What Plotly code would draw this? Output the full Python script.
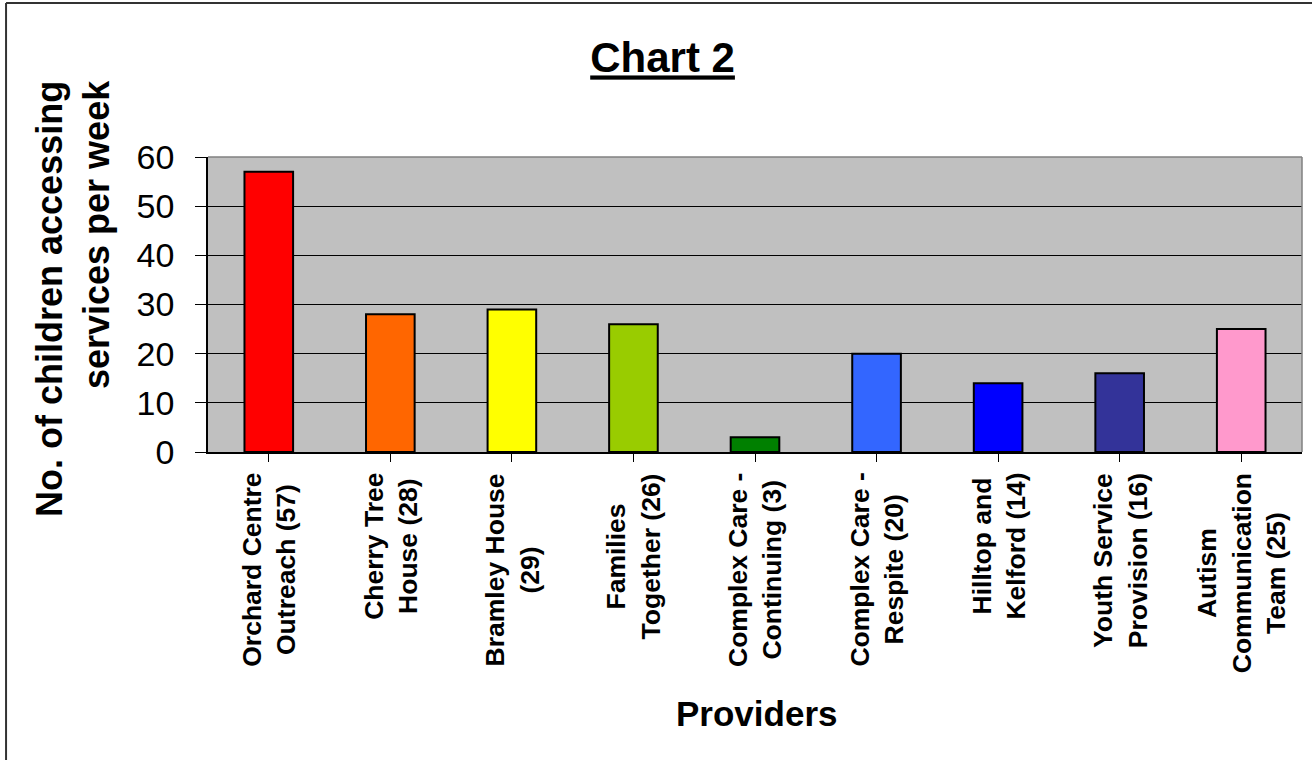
import plotly.graph_objects as go

providers = [
    "Orchard Centre<br>Outreach (57)",
    "Cherry Tree<br>House (28)",
    "Bramley House<br>(29)",
    "Families<br>Together (26)",
    "Complex Care -<br>Continuing (3)",
    "Complex Care -<br>Respite (20)",
    "Hilltop and<br>Kelford (14)",
    "Youth Service<br>Provision (16)",
    "Autism<br>Communication<br>Team (25)",
]
children = [57, 28, 29, 26, 3, 20, 14, 16, 25]
bar_colors = ["#FF0000", "#FF6600", "#FFFF00", "#99CC00", "#008000",
              "#3366FF", "#0000FF", "#333399", "#FF99CC"]
y_ticks = [0, 10, 20, 30, 40, 50, 60]

FONT = "Liberation Sans, Arial, sans-serif"

fig = go.Figure()
fig.add_trace(go.Bar(
    x=list(range(len(providers))),
    y=children,
    marker=dict(color=bar_colors, line=dict(color="#000000", width=2)),
    width=0.4,
    hoverinfo="skip",
))

annotations = []
for i, lab in enumerate(providers):
    annotations.append(dict(
        x=i, xref="x", y=0, yref="paper", yanchor="top", xanchor="center",
        yshift=-19, text="<b>" + lab + "</b>", textangle=-90, align="center",
        showarrow=False, font=dict(family=FONT, size=26.5, color="#000000"),
    ))
annotations.append(dict(
    x=-0.124, xref="paper", y=0.52, yref="paper", xanchor="center", yanchor="middle",
    text="<b>No. of children accessing<br>services per week</b>", textangle=-90,
    align="right", showarrow=False, font=dict(family=FONT, size=36, color="#000000"),
))
annotations.append(dict(
    x=0.5014, xref="paper", y=-0.888, yref="paper", xanchor="center", yanchor="middle",
    text="<b>Providers</b>", showarrow=False,
    font=dict(family=FONT, size=35, color="#000000"),
))

shapes = [
    # plot area top and right border (gray)
    dict(type="line", xref="paper", yref="paper", x0=0, x1=1, y0=1, y1=1,
         line=dict(color="#808080", width=1.5), layer="above"),
    dict(type="line", xref="paper", yref="paper", x0=1, x1=1, y0=0, y1=1,
         line=dict(color="#808080", width=1.5), layer="above"),
    # outer chart border (left and top visible)
    dict(type="line", xref="paper", yref="paper", x0=-0.1846, x1=-0.1846, y0=-1.1, y1=1.522,
         line=dict(color="#333333", width=2)),
    dict(type="line", xref="paper", yref="paper", x0=-0.1846, x1=1.1, y0=1.522, y1=1.522,
         line=dict(color="#333333", width=2)),
]

fig.update_layout(
    width=1312, height=760,
    margin=dict(l=208, r=10, t=157, b=308),
    paper_bgcolor="#FFFFFF",
    plot_bgcolor="#C0C0C0",
    showlegend=False,
    bargap=0.6,
    title=dict(text="<b><u>Chart 2</u></b>", x=0.505, xref="container", xanchor="center",
               y=0.924, yref="container", yanchor="middle",
               font=dict(family=FONT, size=42, color="#000000")),
    annotations=annotations,
    shapes=shapes,
    xaxis=dict(
        range=[-0.5, len(providers) - 0.5],
        tickmode="array", tickvals=list(range(len(providers))), ticktext=providers,
        showticklabels=False, tickson="boundaries", ticks="outside", ticklen=8,
        tickcolor="#000000", tickwidth=1,
        showline=True, linecolor="#000000", linewidth=1.5,
        showgrid=False, zeroline=False, fixedrange=True,
    ),
    yaxis=dict(
        range=[0, 60], tickmode="array", tickvals=y_ticks,
        ticks="outside", ticklen=11, tickcolor="#000000", tickwidth=1,
        ticklabelstandoff=14,
        tickfont=dict(family=FONT, size=34, color="#000000"),
        showline=True, linecolor="#000000", linewidth=1.5,
        showgrid=True, gridcolor="#000000", gridwidth=1,
        zeroline=False, fixedrange=True,
    ),
)

fig.write_html("out.html")
